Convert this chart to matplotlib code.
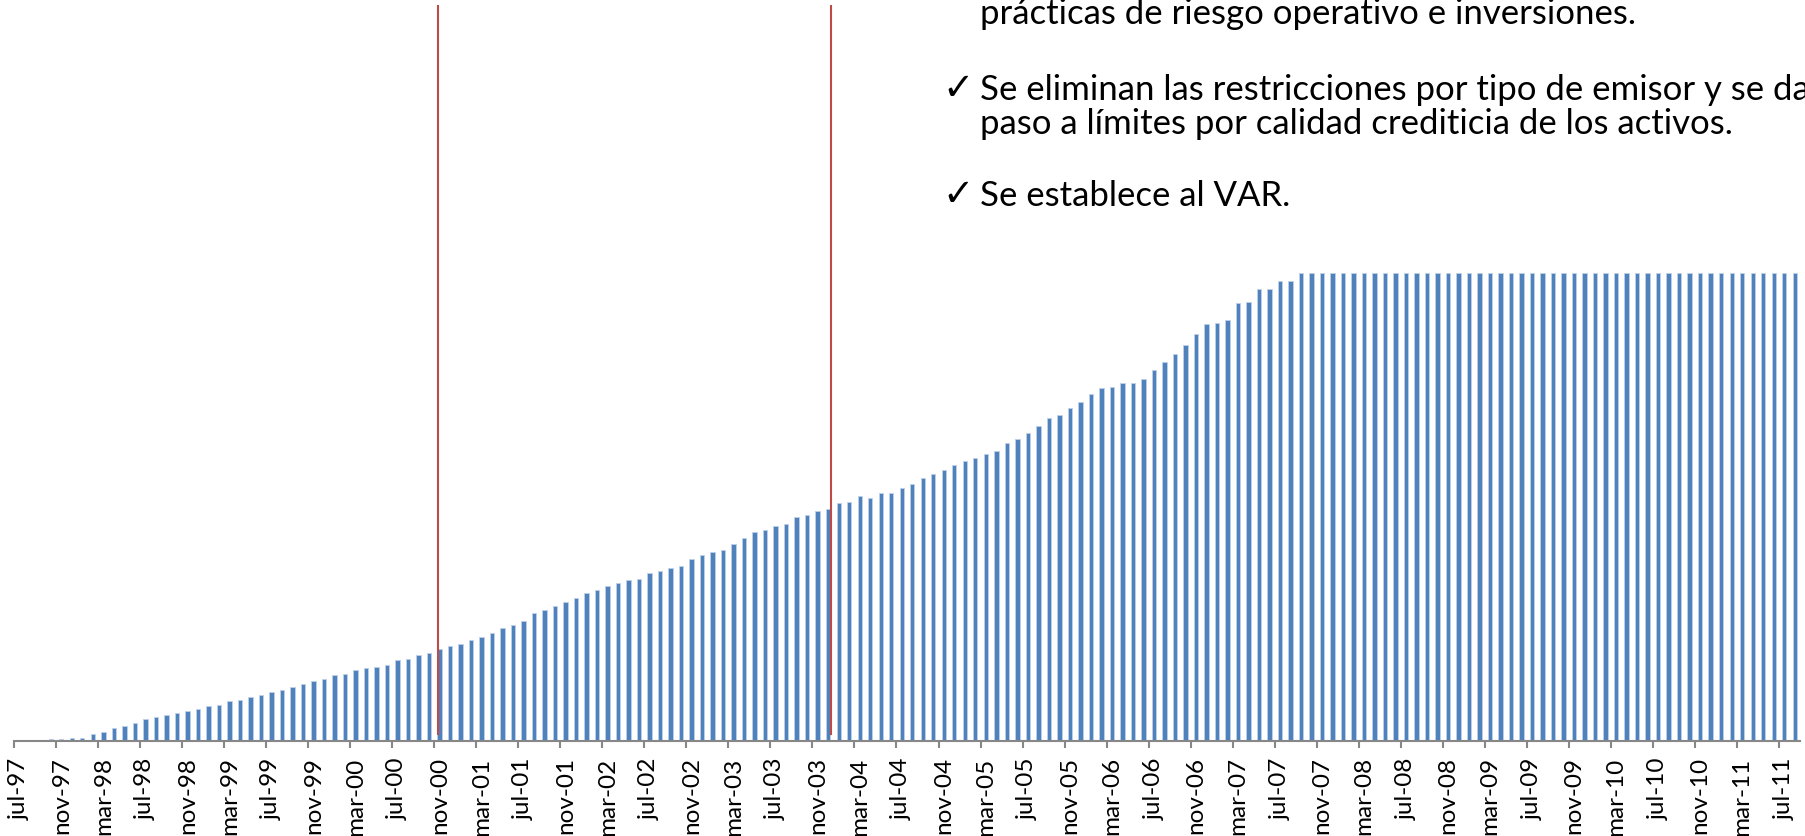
import matplotlib

matplotlib.use("Agg")
import matplotlib.pyplot as plt

# monthly series jul-97 .. aug-11, plateau level = 100
values = [
    0.0, 0.0, 0.1, 0.4, 0.4, 0.6, 0.7, 1.6, 1.9, 2.8,
    3.3, 3.8, 4.7, 5.1, 5.5, 5.9, 6.4, 6.9, 7.4, 7.8,
    8.5, 8.8, 9.4, 9.9, 10.5, 11.0, 11.5, 12.2, 12.8, 13.3,
    14.0, 14.4, 15.2, 15.5, 15.9, 16.3, 17.3, 17.6, 18.4, 18.8,
    19.7, 20.2, 20.8, 21.5, 22.3, 23.0, 24.2, 24.7, 25.6, 27.4,
    28.0, 28.9, 29.8, 30.5, 31.7, 32.3, 33.1, 33.8, 34.5, 34.7,
    35.8, 36.4, 36.9, 37.5, 39.0, 39.8, 40.5, 40.9, 42.1, 43.3,
    44.6, 45.2, 45.9, 46.3, 47.8, 48.3, 49.1, 49.6, 50.9, 51.0,
    52.4, 52.0, 52.9, 52.9, 54.1, 54.9, 56.3, 57.1, 58.0, 59.0,
    59.9, 60.4, 61.4, 61.9, 63.6, 64.5, 65.8, 67.3, 69.1, 69.6,
    71.1, 72.4, 74.2, 75.4, 75.6, 76.6, 76.5, 77.3, 79.2, 81.1,
    82.8, 84.7, 87.0, 89.2, 89.3, 89.9, 93.6, 93.9, 96.7, 96.6,
    98.3, 98.4, 100.0,
] + [100.0] * 47

tick_labels = [
    "jul-97", "nov-97", "mar-98", "jul-98", "nov-98", "mar-99", "jul-99",
    "nov-99", "mar-00", "jul-00", "nov-00", "mar-01", "jul-01", "nov-01",
    "mar-02", "jul-02", "nov-02", "mar-03", "jul-03", "nov-03", "mar-04",
    "jul-04", "nov-04", "mar-05", "jul-05", "nov-05", "mar-06", "jul-06",
    "nov-06", "mar-07", "jul-07", "nov-07", "mar-08", "jul-08", "nov-08",
    "mar-09", "jul-09", "nov-09", "mar-10", "jul-10", "nov-10", "mar-11",
    "jul-11",
]

# reform markers (position in months from jul-97)
markers = [39.85, 77.3]

bullet_lines = [
    (False, "prácticas de riesgo operativo e inversiones."),
    (True, "Se eliminan las restricciones por tipo de emisor y se da"),
    (False, "paso a límites por calidad crediticia de los activos."),
    (True, "Se establece al VAR."),
]
bullet_baselines = [24, 100, 134, 206]  # px from top

W, H = 1805, 837
fig = plt.figure(figsize=(W / 100, H / 100), dpi=100)
ax = fig.add_axes([14 / W, (H - 742) / H, 1786 / W, 736 / H])

x = list(range(len(values)))
ax.bar(x, values, width=0.42, color="#4F81BD", edgecolor="#BFD0E8", linewidth=0.6)

for m in markers:
    ax.axvline(m, ymin=0.0095, ymax=1, color="#BE4B48", lw=1.5)

ax.set_xlim(-0.5, len(values) - 0.5)
ax.set_ylim(0, 157.3)

for s in ["top", "right", "left"]:
    ax.spines[s].set_visible(False)
ax.spines["bottom"].set_color("#878787")
ax.spines["bottom"].set_linewidth(1.5)
ax.set_yticks([])

ax.set_xticks([i * 4 - 0.5 for i in range(len(tick_labels))])
ax.set_xticklabels([])
ax.set_xticks([i * 4 for i in range(len(tick_labels))], tick_labels, minor=True)
ax.tick_params(axis="x", which="major", length=5, width=1.5, color="#878787")
ax.tick_params(axis="x", which="minor", length=0, pad=11, labelsize=17.5,
               labelrotation=90, labelcolor="black")
for lbl in ax.get_xticklabels(minor=True):
    lbl.set_fontfamily("Lato")

for (check, txt), yb in zip(bullet_lines, bullet_baselines):
    yf = 1 - yb / H
    if check:
        fig.text(942 / W, yf, "\u2713", fontsize=27, family="DejaVu Sans", va="baseline")
    fig.text(980 / W, yf, txt, fontsize=25, family="Lato", va="baseline")

fig.savefig("out.png", dpi=100)
